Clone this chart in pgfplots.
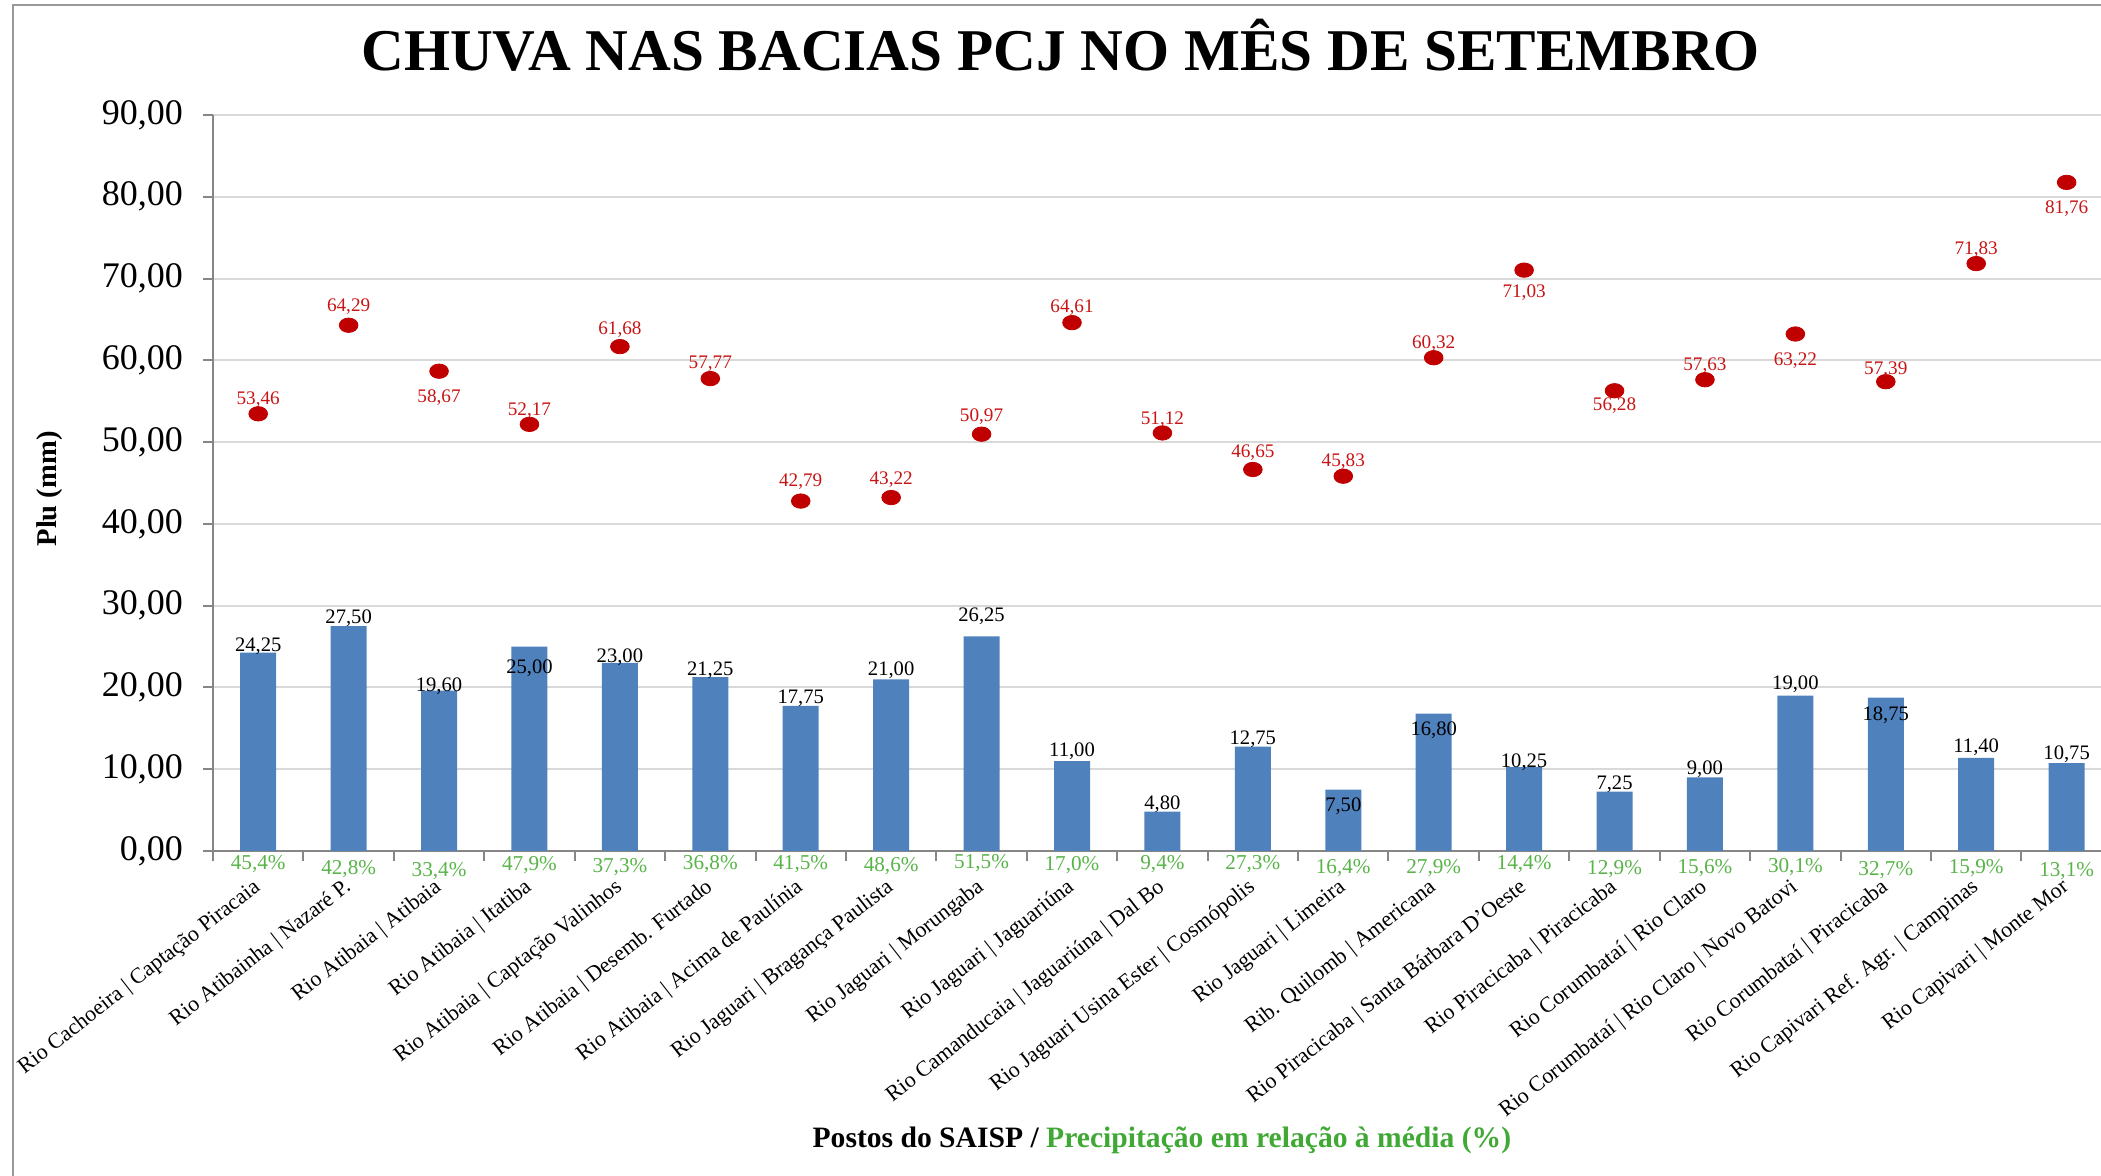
\documentclass[border=0pt]{standalone}
\usepackage{fontspec}
\setmainfont{Liberation Serif}
\usepackage{pgfplots}
\usepackage{pgfplotstable}
\pgfplotsset{compat=1.18}
\definecolor{barblue}{RGB}{79,129,189}
\definecolor{dotred}{RGB}{192,0,0}
\definecolor{lblred}{RGB}{200,20,20}
\definecolor{pcjgreen}{RGB}{64,168,52}
\definecolor{pctgreen}{RGB}{88,180,72}
\definecolor{gridgray}{RGB}{217,217,217}
\definecolor{axgray}{RGB}{134,134,134}

% observed rainfall (bars)
\pgfplotstableread{
x y
0 24.25
1 27.50
2 19.60
3 25.00
4 23.00
5 21.25
6 17.75
7 21.00
8 26.25
9 11.00
10 4.80
11 12.75
12 7.50
13 16.80
14 10.25
15 7.25
16 9.00
17 19.00
18 18.75
19 11.40
20 10.75
}\barsdata

% historical mean (red dots)
\pgfplotstableread{
x y
0 53.46
1 64.29
2 58.67
3 52.17
4 61.68
5 57.77
6 42.79
7 43.22
8 50.97
9 64.61
10 51.12
11 46.65
12 45.83
13 60.32
14 71.03
15 56.28
16 57.63
17 63.22
18 57.39
19 71.83
20 81.76
}\meandata

% bar value labels (x, label centre y, text)
\pgfplotstableread{
x y lbl
0 25.07 24,25
1 28.44 27,50
2 20.14 19,60
3 22.30 25,00
4 23.64 23,00
5 22.16 21,25
6 18.65 17,75
7 22.16 21,00
8 28.67 26,25
9 12.18 11,00
10 5.67 4,80
11 13.62 12,75
12 5.44 7,50
13 14.75 16,80
14 10.83 10,25
15 8.14 7,25
16 9.94 9,00
17 20.45 19,00
18 16.55 18,75
19 12.63 11,40
20 11.82 10,75
}\barlbl

% mean value labels
\pgfplotstableread{
x y lbl
0 55.15 53,46
1 66.60 64,29
2 55.40 58,67
3 53.90 52,17
4 63.70 61,68
5 59.60 57,77
6 45.20 42,79
7 45.40 43,22
8 53.06 50,97
9 66.40 64,61
10 52.80 51,12
11 48.70 46,65
12 47.60 45,83
13 62.00 60,32
14 68.30 71,03
15 54.45 56,28
16 59.40 57,63
17 60.00 63,22
18 58.90 57,39
19 73.55 71,83
20 78.55 81,76
}\meanlbl

% precipitation relative to the mean (%)
\pgfplotstableread{
x y lbl
0 -1.57 45,4\%
1 -2.20 42,8\%
2 -2.41 33,4\%
3 -1.71 47,9\%
4 -1.96 37,3\%
5 -1.57 36,8\%
6 -1.57 41,5\%
7 -1.83 48,6\%
8 -1.47 51,5\%
9 -1.71 17,0\%
10 -1.57 9,4\%
11 -1.65 27,3\%
12 -2.08 16,4\%
13 -2.08 27,9\%
14 -1.57 14,4\%
15 -2.20 12,9\%
16 -2.08 15,6\%
17 -1.96 30,1\%
18 -2.32 32,7\%
19 -2.08 15,9\%
20 -2.45 13,1\%
}\pctlbl

\begin{document}
\begin{tikzpicture}
\path[use as bounding box] (0,0) rectangle (1050.5pt,588pt);
\begin{axis}[
  scale only axis,
  width=944pt, height=368pt,
  at={(106.5pt,162.5pt)}, anchor=south west,
  xmin=-0.5, xmax=20.38, ymin=0, ymax=90,
  clip=false,
  axis lines*=left,
  axis line style={axgray, line width=1pt},
  tick align=outside,
  major tick length=5pt, minor tick length=5pt,
  tick style={axgray, line width=1pt},
  ytick={0,10,...,90},
  ymajorgrids,
  grid style={gridgray, line width=1pt},
  /pgf/number format/assume math mode=true,
  yticklabel style={/pgf/number format/fixed, /pgf/number format/fixed zerofill,
    /pgf/number format/precision=2, /pgf/number format/use comma,
    font=\fontsize{18}{20}\selectfont, xshift=-6.5pt},
  xtick={0,...,20},
  minor xtick={-0.5,0.5,...,19.5},
  major x tick style={draw=none},
  xticklabels={
    Rio Cachoeira | Captação Piracaia,
    Rio Atibainha | Nazaré P.,
    Rio Atibaia | Atibaia,
    Rio Atibaia | Itatiba,
    Rio Atibaia | Captação Valinhos,
    Rio Atibaia | Desemb. Furtado,
    Rio Atibaia | Acima de Paulínia,
    Rio Jaguari | Bragança Paulista,
    Rio Jaguari | Morungaba,
    Rio Jaguari | Jaguariúna,
    Rio Camanducaia | Jaguariúna | Dal Bo,
    Rio Jaguari Usina Ester | Cosmópolis,
    Rio Jaguari | Limeira,
    Rib. Quilomb | Americana,
    Rio Piracicaba | Santa Bárbara D'Oeste,
    Rio Piracicaba | Piracicaba,
    Rio Corumbataí | Rio Claro,
    Rio Corumbataí | Rio Claro | Novo Batovi,
    Rio Corumbataí | Piracicaba,
    Rio Capivari Ref. Agr. | Campinas,
    Rio Capivari | Monte Mor},
  xticklabel style={font=\fontsize{11}{12}\selectfont, inner sep=0pt,
    xshift=0pt, yshift=-12pt, rotate=38, anchor=east},
  title={CHUVA NAS BACIAS PCJ NO MÊS DE SETEMBRO},
  title style={at={(axis description cs:0.449,1.078)}, anchor=center,
    font=\fontsize{29.6}{32}\selectfont\bfseries},
  ylabel={Plu (mm)},
  ylabel style={at={(axis description cs:-0.0863,0.492)}, anchor=center,
    font=\fontsize{14.3}{16}\selectfont\bfseries},
  xlabel={Postos do SAISP / \textcolor{pcjgreen}{Precipitação em relação à média (\%)}},
  xlabel style={at={(axis description cs:0.5026,-0.3927)}, anchor=center,
    font=\fontsize{14.8}{16}\selectfont\bfseries},
]
\addplot[ybar, bar width=18pt, fill=barblue, draw=none] table[x=x,y=y] {\barsdata};
\addplot[only marks, mark=*, mark size=3.6pt, color=dotred,
  mark options={xscale=1.3, fill=dotred, draw=dotred}] table[x=x,y=y] {\meandata};
\addplot[draw=none, mark=none, nodes near coords, point meta=explicit symbolic,
  nodes near coords style={anchor=center, inner sep=0pt, black,
    font=\fontsize{10.3}{11}\selectfont}] table[x=x,y=y,meta=lbl] {\barlbl};
\addplot[draw=none, mark=none, nodes near coords, point meta=explicit symbolic,
  nodes near coords style={anchor=center, inner sep=0pt, lblred,
    font=\fontsize{9.6}{10}\selectfont}] table[x=x,y=y,meta=lbl] {\meanlbl};
\addplot[draw=none, mark=none, nodes near coords, point meta=explicit symbolic,
  nodes near coords style={anchor=center, inner sep=0pt, pctgreen,
    font=\fontsize{10.6}{11}\selectfont}] table[x=x,y=y,meta=lbl] {\pctlbl};
\end{axis}
\draw[gray!80, line width=1pt] (6.5pt,0pt) -- (6.5pt,585.5pt) -- (1050.5pt,585.5pt);
\end{tikzpicture}
\end{document}
